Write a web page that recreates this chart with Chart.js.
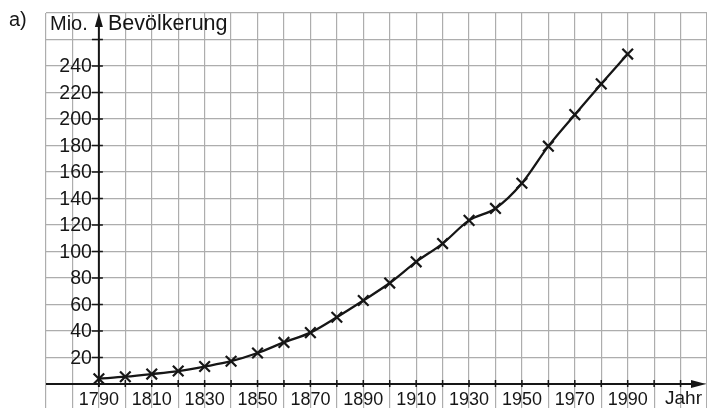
<!DOCTYPE html>
<html lang="de">
<head>
  <meta charset="UTF-8">
  <title>Bevölkerung</title>
  <script src="https://cdn.jsdelivr.net/npm/chart.js"></script>
  <style>
    body { margin: 0; background: #fff; }
    canvas { display: block; }
  </style>
</head>
<body>
  <canvas id="chart" width="707" height="408"></canvas>

  <script>
    // Bevölkerung in Mio. je Jahr
    const years = [1790, 1800, 1810, 1820, 1830, 1840, 1850, 1860, 1870, 1880, 1890,
                   1900, 1910, 1920, 1930, 1940, 1950, 1960, 1970, 1980, 1990];
    const population = [4, 5.5, 7.5, 9.8, 13.2, 17.2, 23.4, 31.4, 38.8, 50.4, 63,
                        76.2, 92.2, 106, 123.5, 132.5, 151.5, 179.5, 203.3, 226.5, 249];
    const yLabels = [20, 40, 60, 80, 100, 120, 140, 160, 180, 200, 220, 240];
    const xLabels = [1790, 1810, 1830, 1850, 1870, 1890, 1910, 1930, 1950, 1970, 1990];

    const font = "'Liberation Sans', Arial, sans-serif";
    const ink = '#161616';

    function text(ctx, str, x, y, size, align) {
      ctx.font = size + 'px ' + font;
      ctx.textAlign = align;
      ctx.textBaseline = 'middle';
      ctx.fillStyle = ink;
      ctx.fillText(str, x, y);
    }

    const axesPlugin = {
      id: 'axes',
      beforeDatasetsDraw(chart) {
        const ctx = chart.ctx;
        const xs = chart.scales.x, ys = chart.scales.y;
        const x0 = xs.getPixelForValue(1790);
        const y0 = ys.getPixelForValue(0);
        const area = chart.chartArea;
        ctx.save();

        // labels
        yLabels.forEach(v => text(ctx, String(v), x0 - 7, ys.getPixelForValue(v) + 1, 19.5, 'right'));
        xLabels.forEach(v => text(ctx, String(v), xs.getPixelForValue(v), y0 + 16, 18, 'center'));
        text(ctx, 'Jahr', 702, y0 + 15, 19, 'right');
        text(ctx, 'Mio.', 50, 24, 20, 'left');
        text(ctx, 'Bevölkerung', 108, 24, 21.5, 'left');
        text(ctx, 'a)', 9, 20, 20, 'left');

        ctx.strokeStyle = ink;
        ctx.fillStyle = ink;
        ctx.lineWidth = 2;

        // axis lines
        ctx.beginPath();
        ctx.moveTo(x0, y0 + 3);
        ctx.lineTo(x0, area.top + 6);
        ctx.moveTo(area.left, y0);
        ctx.lineTo(area.right - 8, y0);
        ctx.stroke();

        // arrows
        ctx.beginPath();
        ctx.moveTo(x0, area.top);
        ctx.lineTo(x0 - 4, area.top + 14);
        ctx.lineTo(x0 + 4, area.top + 14);
        ctx.closePath();
        ctx.fill();
        ctx.beginPath();
        ctx.moveTo(area.right - 1, y0);
        ctx.lineTo(area.right - 16, y0 - 4);
        ctx.lineTo(area.right - 16, y0 + 4);
        ctx.closePath();
        ctx.fill();

        // tick marks
        ctx.lineWidth = 1.5;
        ctx.beginPath();
        for (let v = 20; v <= 260; v += 20) {
          const py = ys.getPixelForValue(v);
          ctx.moveTo(x0 - 7, py);
          ctx.lineTo(x0 + 4, py);
        }
        for (let v = 1800; v <= 2010; v += 10) {
          const px = xs.getPixelForValue(v);
          ctx.moveTo(px, y0 - 4);
          ctx.lineTo(px, y0 + 3);
        }
        ctx.stroke();
        ctx.restore();
      }
    };

    function fixedTicks(from, to, step) {
      return scale => {
        const t = [];
        for (let v = from; v <= to; v += step) t.push({ value: v });
        scale.ticks = t;
      };
    }

    new Chart(document.getElementById('chart'), {
      type: 'line',
      data: {
        labels: years,
        datasets: [{
          data: years.map((y, i) => ({ x: y, y: population[i] })),
          borderColor: ink,
          borderWidth: 2.3,
          cubicInterpolationMode: 'monotone',
          pointStyle: 'crossRot',
          pointRadius: 7.5,
          pointBorderWidth: 2.2,
          pointBorderColor: ink,
          fill: false
        }]
      },
      options: {
        responsive: false,
        animation: false,
        devicePixelRatio: 1,
        layout: { autoPadding: false, padding: { left: 46, right: 0, top: 13, bottom: 0 } },
        plugins: { legend: { display: false }, tooltip: { enabled: false } },
        scales: {
          x: {
            type: 'linear',
            min: 1770,
            max: 2020,
            afterBuildTicks: fixedTicks(1770, 2020, 10),
            afterFit: s => { s.height = 0; },
            ticks: { display: false },
            grid: { color: '#adadad', lineWidth: 1.2, drawTicks: false },
            border: { display: false }
          },
          y: {
            min: -18.1,
            max: 280,
            afterBuildTicks: fixedTicks(0, 280, 20),
            afterFit: s => { s.width = 0; },
            ticks: { display: false },
            grid: { color: '#adadad', lineWidth: 1.2, drawTicks: false },
            border: { display: false }
          }
        }
      },
      plugins: [axesPlugin]
    });
  </script>
</body>
</html>
